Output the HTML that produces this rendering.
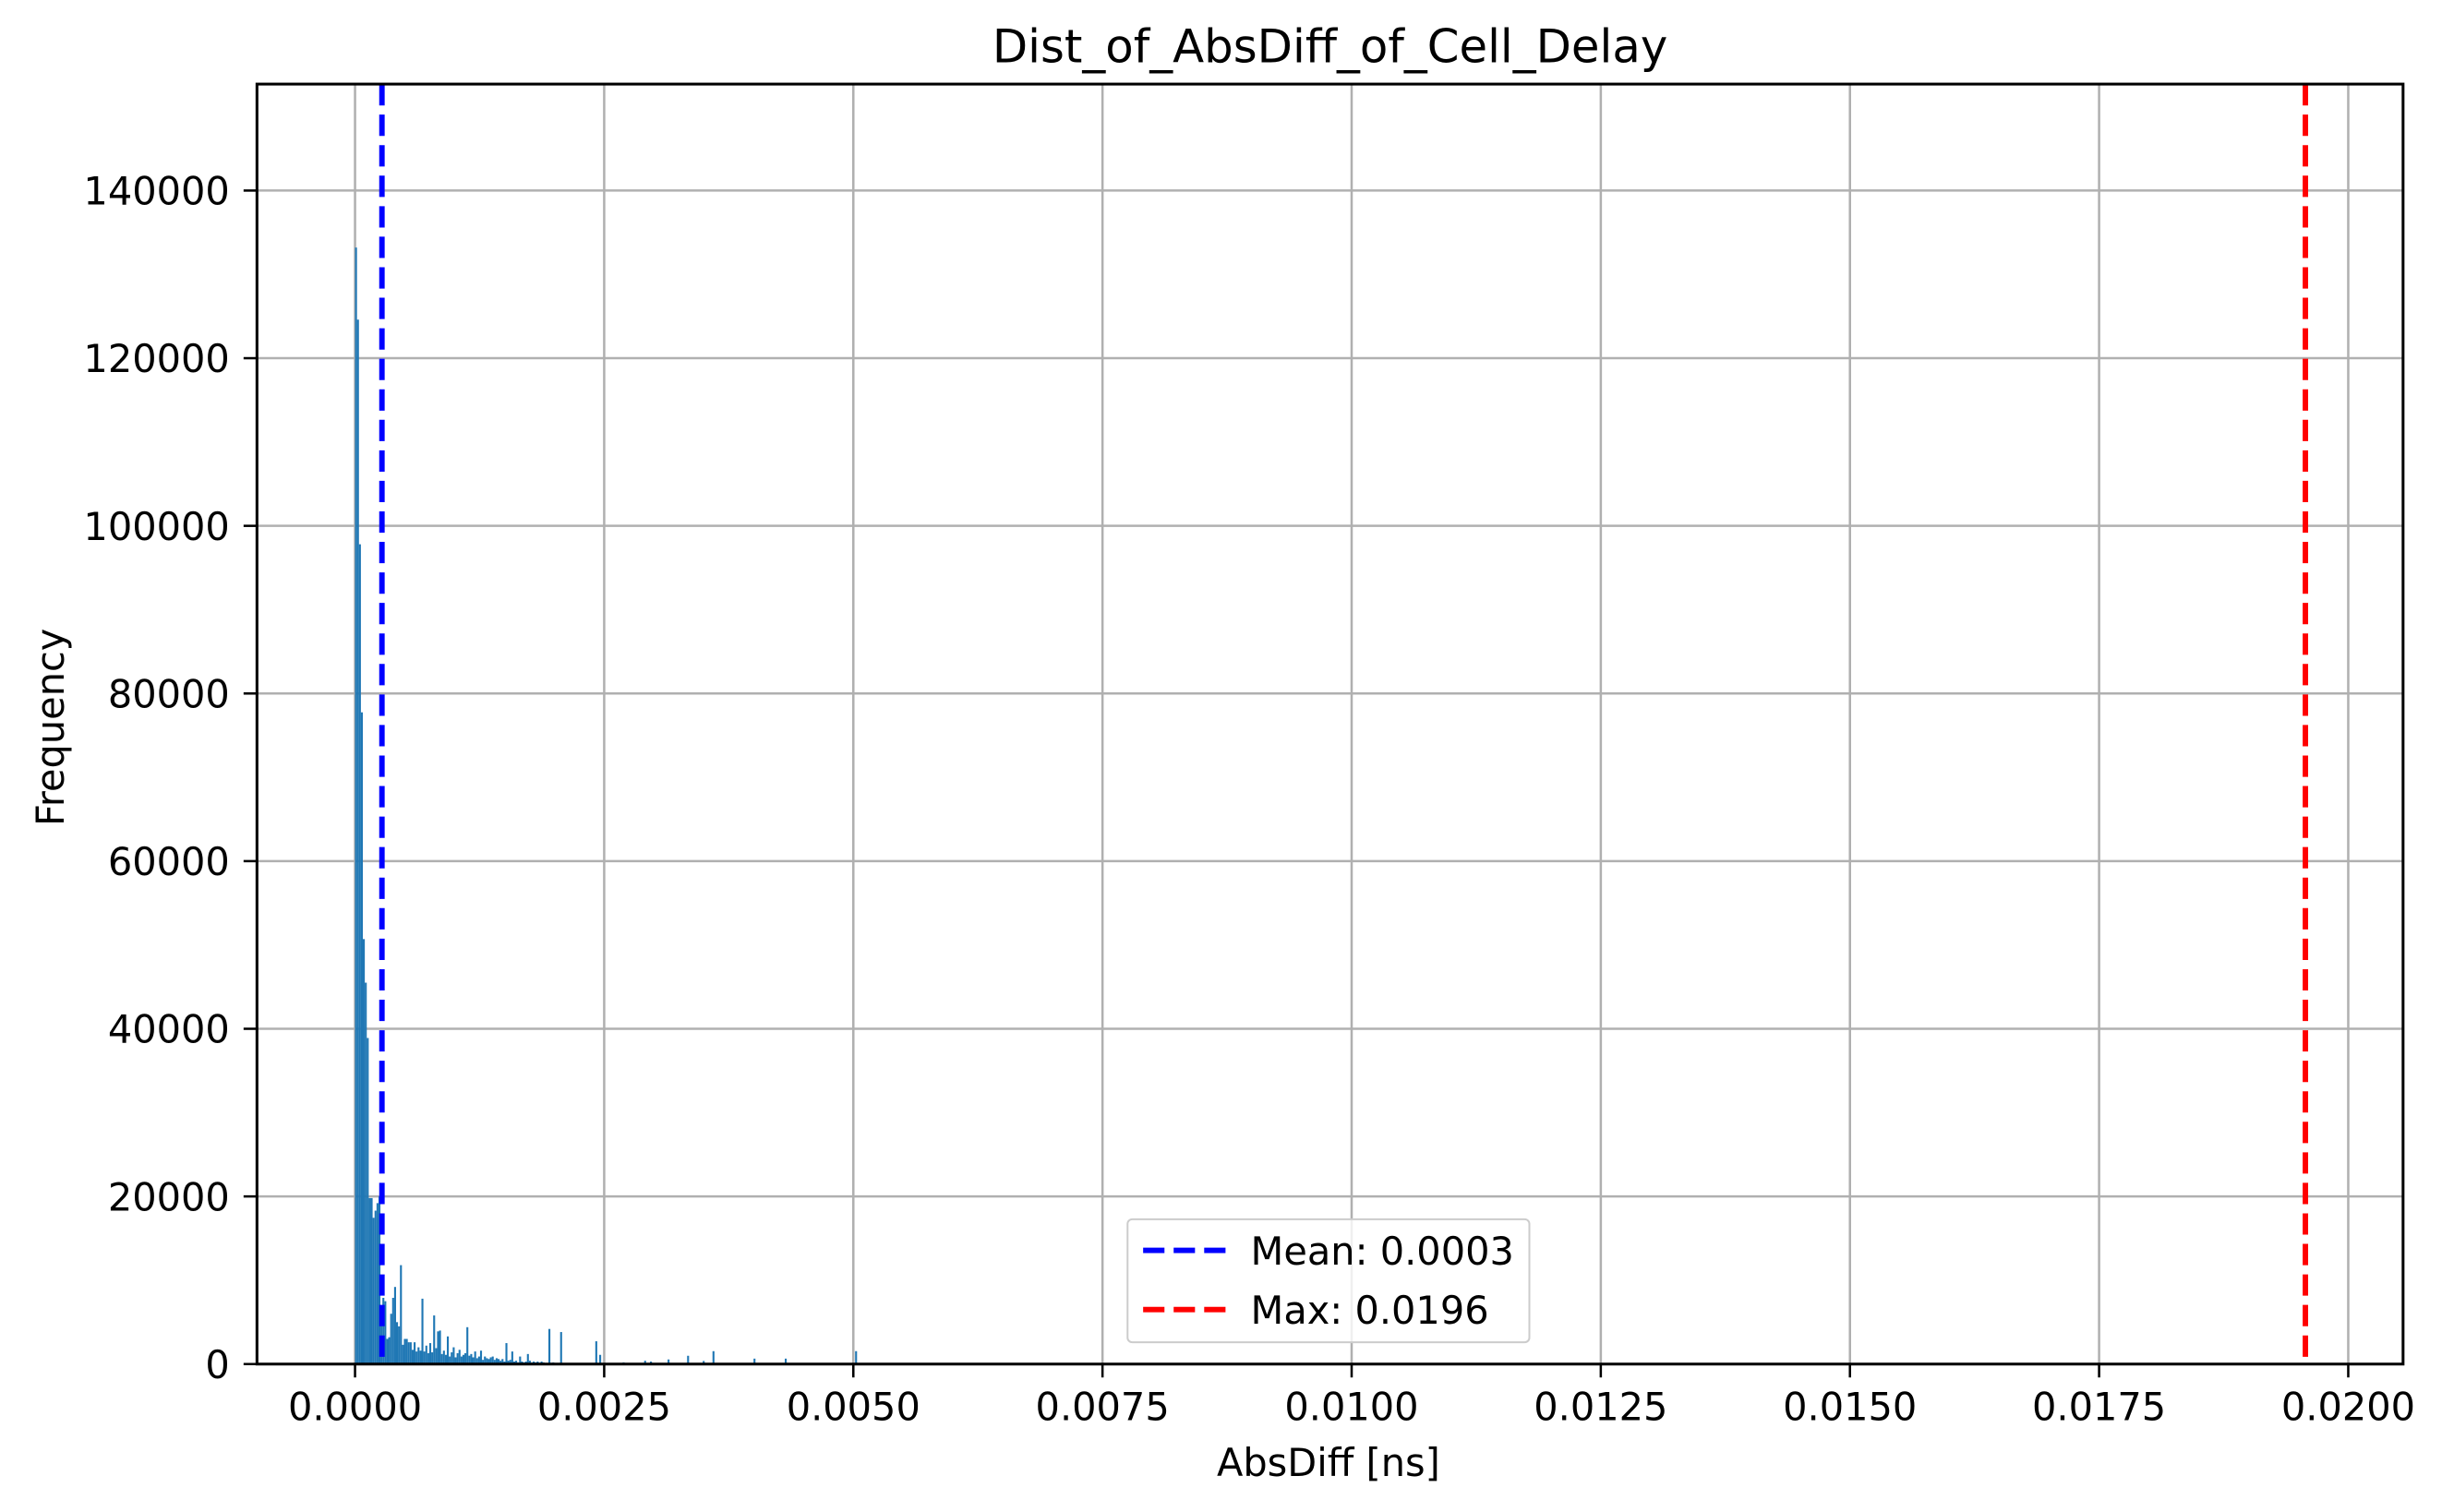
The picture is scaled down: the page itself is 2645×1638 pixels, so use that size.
<!DOCTYPE html>
<html><head><meta charset="utf-8"><style>
html,body{margin:0;padding:0;background:#fff;}
svg{display:block;font-family:"DejaVu Sans","Liberation Sans",sans-serif;}
</style></head><body>
<svg id="chart" width="2645" height="1638" viewBox="0 0 1568 971" preserveAspectRatio="none" xmlns="http://www.w3.org/2000/svg">
<rect width="1568" height="971" fill="#fff"/>
<g id="grid"></g>
<g id="bars"></g>
<g id="lines"></g>
<g id="axes"></g>
<text x="854" y="40" font-size="29.5" text-anchor="middle">Dist_of_AbsDiff_of_Cell_Delay</text>
<text x="853" y="948" font-size="24.6" text-anchor="middle">AbsDiff [ns]</text>
<text transform="translate(41,467) rotate(-90)" font-size="24.6" text-anchor="middle">Frequency</text>
<g>
<rect x="724" y="783" width="258" height="79" rx="3" fill="#fff" fill-opacity="0.8" stroke="#ccc" stroke-width="1.2"/>
<line x1="734" y1="803" x2="790" y2="803" stroke="#0000ff" stroke-width="3.5" stroke-dasharray="13.7,5.9"/>
<text x="803" y="812" font-size="24.6">Mean: 0.0003</text>
<line x1="734" y1="841" x2="790" y2="841" stroke="#ff0000" stroke-width="3.5" stroke-dasharray="13.7,5.9"/>
<text x="803" y="850" font-size="24.6">Max: 0.0196</text>
</g>
</svg>
<script>
const binWidth = 0.0000196;
const binCounts = [133200,124600,97800,77750,50700,45500,38900,19800,19800,17450,18300,19200,20000,7000,7900,7500,3000,3200,6000,7900,9200,5000,4500,11800,2300,3000,3000,2600,2600,1700,2600,1500,
2000,1600,7800,1500,2200,1300,2500,1400,5800,1900,3900,4000,1200,1600,1100,3300,900,1400,2000,800,1300,1700,900,1100,1300,4400,1000,1200,800,1500,700,900,1600,500,900,700,600,800,900,500,700,600,400,600,300,2500,400,500,1500,300,400,200,900,300,200,300,1200,400,200,300,200,300,150,300,200,100,100,4190,150,200,100,100,100,3820,100,50,100,100,80,100,50,60,100,50,40,30,20,100,30,60,20,2720,20,1100];
const tailBins = [137,148,151,160,170,178,183,204,220,256];
const tailCounts = [200,400,300,550,990,370,1540,650,650,1540];
const xTicks = [0,0.0025,0.005,0.0075,0.01,0.0125,0.015,0.0175,0.02];
const xTickLabels = ["0.0000","0.0025","0.0050","0.0075","0.0100","0.0125","0.0150","0.0175","0.0200"];
const yTicks = [0,20000,40000,60000,80000,100000,120000,140000];
const yTickLabels = ["0","20000","40000","60000","80000","100000","120000","140000"];
const meanValue = 0.00027;
const maxValue = 0.01957;

const L=165,R=1543,T=54,B=876;
const xMin=-0.000984, xMax=0.02055, yMin=0, yMax=152700;
const X=v=>L+(v-xMin)/(xMax-xMin)*(R-L);
const Y=v=>B-(v-yMin)/(yMax-yMin)*(B-T);
const NS="http://www.w3.org/2000/svg";
function mk(tag,attrs,parent){const e=document.createElementNS(NS,tag);for(const k in attrs)e.setAttribute(k,attrs[k]);parent.appendChild(e);return e;}
const grid=document.getElementById('grid'),bars=document.getElementById('bars'),lines=document.getElementById('lines'),axes=document.getElementById('axes');
xTicks.forEach((t,i)=>{
  const g=mk('line',{x1:X(t),x2:X(t),y1:T,y2:B,stroke:'#b0b0b0','stroke-width':1.5},grid);
  
  
  const tk=mk('line',{x1:X(t),x2:X(t),y1:B,y2:B+8.6,stroke:'#000','stroke-width':1.5},axes);
  
  
  const tx=mk('text',{x:X(t),y:B+36,'font-size':24.6,'text-anchor':'middle'},axes);
  tx.textContent=xTickLabels[i];
  
  
});
yTicks.forEach((t,i)=>{
  const g=mk('line',{x1:L,x2:R,y1:Y(t),y2:Y(t),stroke:'#b0b0b0','stroke-width':1.5},grid);
  
  
  const tk=mk('line',{x1:L-8.6,x2:L,y1:Y(t),y2:Y(t),stroke:'#000','stroke-width':1.5},axes);
  
  
  const tx=mk('text',{x:L-17.5,y:Y(t)+9,'font-size':24.6,'text-anchor':'end'},axes);
  tx.textContent=yTickLabels[i];
  
  
});
function bar(i,c){
  const x0=X(i*binWidth),x1=X((i+1)*binWidth);
  const r=mk('rect',{x:x0,y:Y(c),width:Math.max(x1-x0,0.6),height:Y(0)-Y(c),fill:'#1f77b4'},bars);
  
  
}
binCounts.forEach((c,i)=>bar(i,c));
tailBins.forEach((b,i)=>bar(b,tailCounts[i]));
const ml=mk('line',{x1:X(meanValue),x2:X(meanValue),y1:T,y2:B,stroke:'#0000ff','stroke-width':3.5,'stroke-dasharray':'13.7,5.9'},lines);


const xl=mk('line',{x1:X(maxValue),x2:X(maxValue),y1:T,y2:B,stroke:'#ff0000','stroke-width':3.5,'stroke-dasharray':'13.7,5.9'},lines);


const fr=mk('rect',{x:L,y:T,width:R-L,height:B-T,fill:'none',stroke:'#000','stroke-width':1.8},axes);


</script>
</body></html>
